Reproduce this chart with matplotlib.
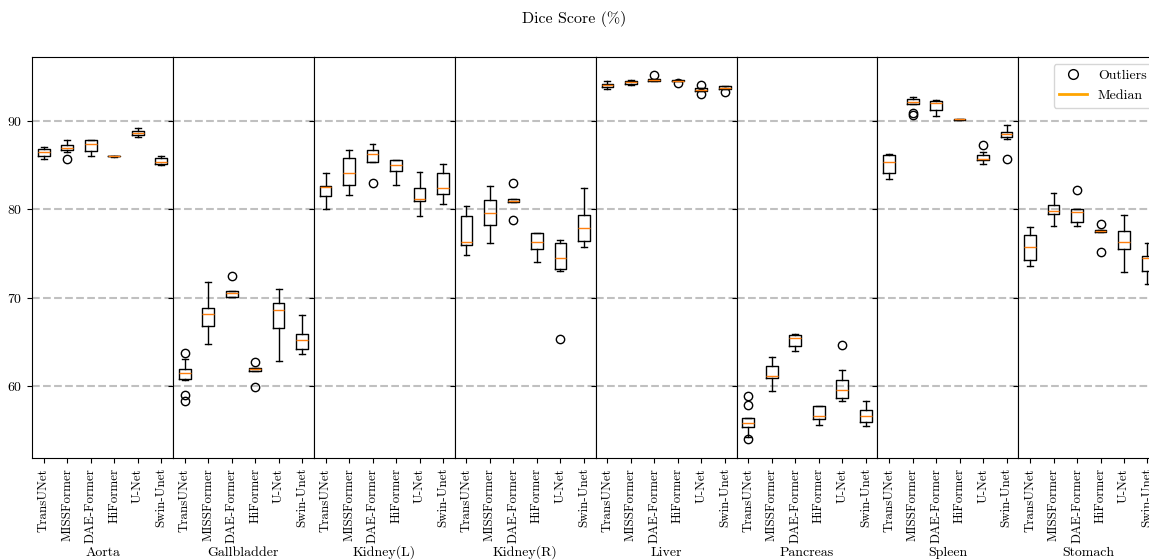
import matplotlib
matplotlib.use("Agg")
import matplotlib.pyplot as plt
from matplotlib.lines import Line2D

plt.rcParams['font.family'] = ['cmr10', 'DejaVu Serif']
plt.rcParams['mathtext.fontset'] = 'cm'
plt.rcParams['axes.formatter.use_mathtext'] = True
plt.rcParams['font.size'] = 10

# models and organs
models = ["TransUNet", "MISSFormer", "DAE-Former", "HiFormer", "U-Net", "Swin-Unet"]
organs = ["Aorta", "Gallbladder", "Kidney(L)", "Kidney(R)", "Liver", "Pancreas", "Spleen", "Stomach"]

# box statistics per organ, one value per model
whislo = {
    "Aorta":       [85.7, 86.5, 86.0, 85.95, 88.2, 85.0],
    "Gallbladder": [60.7, 64.8, 70.1, 61.7, 62.9, 63.6],
    "Kidney(L)":   [80.0, 81.6, 85.4, 82.75, 79.3, 80.6],
    "Kidney(R)":   [74.8, 76.2, 80.8, 74.1, 73.0, 75.7],
    "Liver":       [93.6, 94.1, 94.5, 94.5, 93.35, 93.6],
    "Pancreas":    [54.3, 59.5, 64.0, 55.6, 58.3, 55.5],
    "Spleen":      [83.5, 91.9, 90.55, 90.1, 85.1, 88.0],
    "Stomach":     [73.65, 78.1, 78.15, 77.45, 72.9, 71.6],
}
q1 = {
    "Aorta":       [86.1, 86.7, 86.6, 86.0, 88.45, 85.2],
    "Gallbladder": [60.8, 66.8, 70.1, 61.7, 66.6, 64.2],
    "Kidney(L)":   [81.5, 82.8, 85.4, 84.3, 81.0, 81.7],
    "Kidney(R)":   [75.95, 78.2, 80.8, 75.5, 73.3, 76.4],
    "Liver":       [93.85, 94.15, 94.5, 94.5, 93.4, 93.6],
    "Pancreas":    [55.4, 60.9, 64.6, 56.3, 58.7, 56.0],
    "Spleen":      [84.1, 91.9, 91.2, 90.15, 85.6, 88.25],
    "Stomach":     [74.3, 79.5, 78.6, 77.45, 75.5, 73.05],
}
med = {
    "Aorta":       [86.5, 86.9, 87.4, 86.0, 88.7, 85.4],
    "Gallbladder": [61.5, 68.2, 70.55, 61.9, 68.6, 65.2],
    "Kidney(L)":   [82.5, 84.1, 86.3, 85.05, 81.2, 82.4],
    "Kidney(R)":   [76.3, 79.55, 81.0, 76.3, 74.55, 77.9],
    "Liver":       [94.1, 94.4, 94.7, 94.55, 93.55, 93.75],
    "Pancreas":    [55.85, 61.2, 65.4, 56.65, 59.6, 56.6],
    "Spleen":      [85.4, 92.2, 92.0, 90.2, 85.75, 88.55],
    "Stomach":     [75.8, 79.8, 79.7, 77.6, 76.3, 74.5],
}
q3 = {
    "Aorta":       [86.8, 87.3, 87.85, 86.05, 88.9, 85.8],
    "Gallbladder": [61.9, 68.8, 70.8, 62.1, 69.4, 65.9],
    "Kidney(L)":   [82.6, 85.85, 86.7, 85.55, 82.4, 84.15],
    "Kidney(R)":   [79.3, 81.1, 81.2, 77.3, 76.15, 79.4],
    "Liver":       [94.2, 94.55, 94.8, 94.65, 93.75, 93.95],
    "Pancreas":    [56.35, 62.3, 65.8, 57.8, 60.75, 57.35],
    "Spleen":      [86.2, 92.45, 92.25, 90.25, 86.2, 88.8],
    "Stomach":     [77.1, 80.5, 80.0, 77.7, 77.55, 74.75],
}
whishi = {
    "Aorta":       [87.1, 87.9, 87.9, 86.1, 89.2, 86.0],
    "Gallbladder": [63.1, 71.8, 70.8, 62.1, 71.0, 68.1],
    "Kidney(L)":   [84.1, 86.75, 87.4, 85.55, 84.2, 85.2],
    "Kidney(R)":   [80.4, 82.6, 81.2, 77.3, 76.55, 82.4],
    "Liver":       [94.5, 94.7, 94.8, 94.65, 93.75, 93.95],
    "Pancreas":    [56.35, 63.3, 65.9, 57.8, 61.8, 58.3],
    "Spleen":      [86.3, 92.7, 92.4, 90.25, 86.45, 89.6],
    "Stomach":     [78.05, 81.9, 80.0, 77.7, 79.4, 76.2],
}
outliers = {
    "Aorta":       [[], [85.7], [], [], [], []],
    "Gallbladder": [[63.7, 59.0, 58.3], [], [72.45], [62.7, 59.85], [], []],
    "Kidney(L)":   [[], [], [83.0], [], [], []],
    "Kidney(R)":   [[], [], [83.0, 78.8], [], [65.3], []],
    "Liver":       [[], [], [95.2], [94.3], [94.05, 93.05], [93.25]],
    "Pancreas":    [[58.9, 57.85, 54.0], [], [], [], [64.65], []],
    "Spleen":      [[], [90.95, 90.65], [], [], [87.25], [85.7]],
    "Stomach":     [[], [], [82.2], [78.4, 75.2], [], []],
}

fig, axes = plt.subplots(1, len(organs), sharey=True, figsize=(11.49, 5.6), dpi=100)
# the last panel runs past the right edge, as in the original
fig.subplots_adjust(left=0.0279, right=1.0089, bottom=0.182, top=0.898, wspace=0)

for ax, organ in zip(axes, organs):
    stats = []
    for i, m in enumerate(models):
        stats.append(dict(label=m, med=med[organ][i], q1=q1[organ][i], q3=q3[organ][i],
                          whislo=whislo[organ][i], whishi=whishi[organ][i],
                          fliers=outliers[organ][i]))
    ax.bxp(stats, showfliers=True,
           medianprops=dict(color="#ff7f0e", linewidth=1),
           flierprops=dict(marker="o", markerfacecolor="none", markeredgecolor="black", markersize=6))
    ax.set_xticks(range(1, len(models) + 1))
    ax.set_xticklabels(models, rotation=90, fontsize=9.4)
    ax.set_xlabel(organ, va="baseline")
    # same baseline for every organ name
    ax.xaxis.set_label_coords(0.5, -0.244)
    ax.yaxis.grid(True, linestyle="--", linewidth=1.5, color="#c0c0c0")
    ax.set_axisbelow(True)

axes[0].set_ylim(51.86, 97.24)
axes[0].set_yticks([60, 70, 80, 90])

handles = [Line2D([], [], marker="o", linestyle="none", markerfacecolor="none",
                  markeredgecolor="black", markersize=7),
           Line2D([], [], color="orange", linewidth=2)]
axes[-1].legend(handles, ["Outliers", "Median"], loc="upper right")

fig.suptitle("Dice Score (%)", y=0.98, fontsize=11.5)

plt.savefig("out.png", dpi=100)
